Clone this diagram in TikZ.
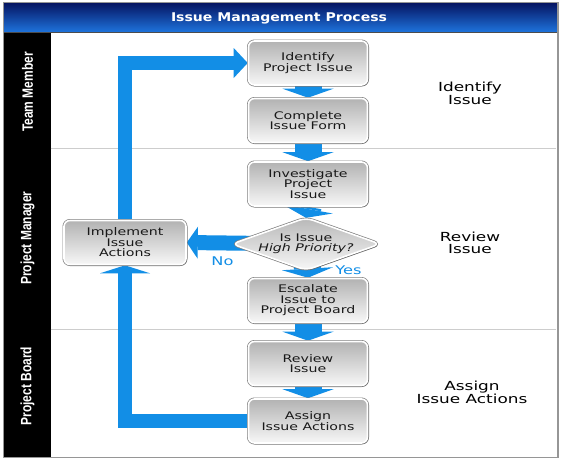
\documentclass[tikz,border=0pt]{standalone}
\usepackage{fontspec}
\setmainfont{DejaVu Sans}
\newfontfamily\boxfont[FakeStretch=1.35]{DejaVu Sans}
\newfontfamily\titlefont[FakeStretch=1.17]{DejaVu Sans}
\newfontfamily\lanefont[FakeStretch=0.8]{Liberation Sans}
\usetikzlibrary{arrows.meta,shadows}
\pgfdeclarelayer{back}
\pgfdeclarelayer{mid}
\pgfsetlayers{back,mid,main}
\definecolor{flowblue}{RGB}{18,142,230}
\definecolor{navytop}{RGB}{6,22,100}
\definecolor{bluebot}{RGB}{30,115,220}
\definecolor{framegray}{RGB}{150,150,150}
\definecolor{lanegray}{RGB}{205,205,205}
\begin{document}
\begin{tikzpicture}[x=1pt,y=-1pt,
  pbox/.style={rectangle, rounded corners=6pt, minimum width=119pt, minimum height=44pt,
    inner sep=0pt, align=center, text=black!90,
    font=\boxfont\fontsize{10.5}{10.5}\selectfont,
    top color=black!30, bottom color=black!3,
    draw=white, line width=1.6pt,
    preaction={draw=black!50, line width=3pt},
    drop shadow={shadow xshift=1.2pt, shadow yshift=-1.2pt, opacity=0.25, fill=black}},
  diatext/.style={rectangle, minimum width=148pt, minimum height=52pt, inner sep=0pt,
    align=center, text=black!90, font=\boxfont\fontsize{10.5}{10.5}\selectfont},
  diashape/.style={rounded corners=7pt, top color=black!28, bottom color=black!3,
    draw=white, line width=1.6pt, preaction={draw=black!50, line width=3pt},
    drop shadow={shadow xshift=1.2pt, shadow yshift=-1.2pt, opacity=0.25, fill=black}},
  sidelabel/.style={align=center, text=black, font=\boxfont\fontsize{12.5}{11.5}\selectfont},
  lanelabel/.style={rotate=90, text=white, font=\lanefont\bfseries\fontsize{15}{15}\selectfont},
  answer/.style={text=flowblue, font=\boxfont\fontsize{12}{12}\selectfont},
  dnarr/.style={draw=flowblue, line width=27pt,
    -{Triangle[width=51pt,length=9pt,line width=0pt]}},
  looparr/.style={draw=flowblue, line width=14pt, line join=miter},
  noarr/.style={draw=flowblue, line width=15pt,
    -{Triangle[width=32pt,length=11pt,line width=0pt]}}]
\useasboundingbox (0,0) rectangle (565,463);

% frame
\begin{pgfonlayer}{back}
\fill[white] (0,0) rectangle (565,463);
\fill[top color=navytop, bottom color=bluebot] (4,3.3) rectangle (557.5,32);
\draw[black!70, line width=0.8pt] (4,32.4) -- (557.5,32.4);
\fill[black] (4,33) rectangle (50.5,457);
\draw[lanegray, line width=1pt] (50.5,148) -- (556,148);
\draw[lanegray, line width=1pt] (50.5,329) -- (556,329);
\draw[framegray, line width=1.6pt] (3.3,2.5) rectangle (557.8,457.5);
\end{pgfonlayer}

% title and lanes
\node[text=white, font=\titlefont\bfseries\fontsize{12}{14}\selectfont] (title) at (279,18) {Issue Management Process};
\node[lanelabel] (lane1) at (27.5,92) {Team Member};
\node[lanelabel] (lane2) at (27.5,238) {Project Manager};
\node[lanelabel] (lane3) at (27.5,386) {Project Board};

% process boxes
\node[pbox] (b1) at (308,63) {Identify\\Project Issue};
\node[pbox] (b2) at (308,120.5) {Complete\\Issue Form};
\node[pbox] (b3) at (308,184) {Investigate\\Project\\Issue};
\node[diatext] (dia) at (306,244) {Is Issue\\\textit{High Priority?}};
\node[pbox] (b4) at (308,300.5) {Escalate\\Issue to\\Project Board};
\node[pbox] (b5) at (308,363.5) {Review\\Issue};
\node[pbox] (b6) at (308,421) {Assign\\Issue Actions};
\node[pbox, minimum width=122pt] (impl) at (125,242.5) {Implement\\Issue\\Actions};

\begin{pgfonlayer}{mid}
\path[diashape] (dia.west) -- (dia.north) -- (dia.east) -- (dia.south) -- cycle;
\end{pgfonlayer}

% side labels
\node[sidelabel] (s1) at (470,93) {Identify\\Issue};
\node[sidelabel] (s2) at (470,243) {Review\\Issue};
\node[sidelabel] (s3) at (472,392) {Assign\\Issue Actions};
\node[answer] (no) at (222.5,261) {No};
\node[answer] (yes) at (348.5,270) {Yes};

% connectors
\begin{pgfonlayer}{back}
\draw[dnarr] (b1.south) -- (b2.north);
\draw[dnarr] (b2.south) -- (b3.north);
\draw[dnarr] (b3.south) -- (dia.north);
\draw[dnarr] (dia.center) -- (b4.north);
\draw[dnarr] (b4.south) -- (b5.north);
\draw[dnarr] (b5.south) -- (b6.north);
\draw[noarr] (dia.center) -- (impl.east);
\draw[looparr, -{Triangle[width=50pt,length=8pt,line width=0pt]}] (b6.west) -| (impl.south);
\draw[looparr, -{Triangle[width=30pt,length=14pt,line width=0pt]}] (impl.north) |- (b1.west);
\end{pgfonlayer}
\end{tikzpicture}
\end{document}
